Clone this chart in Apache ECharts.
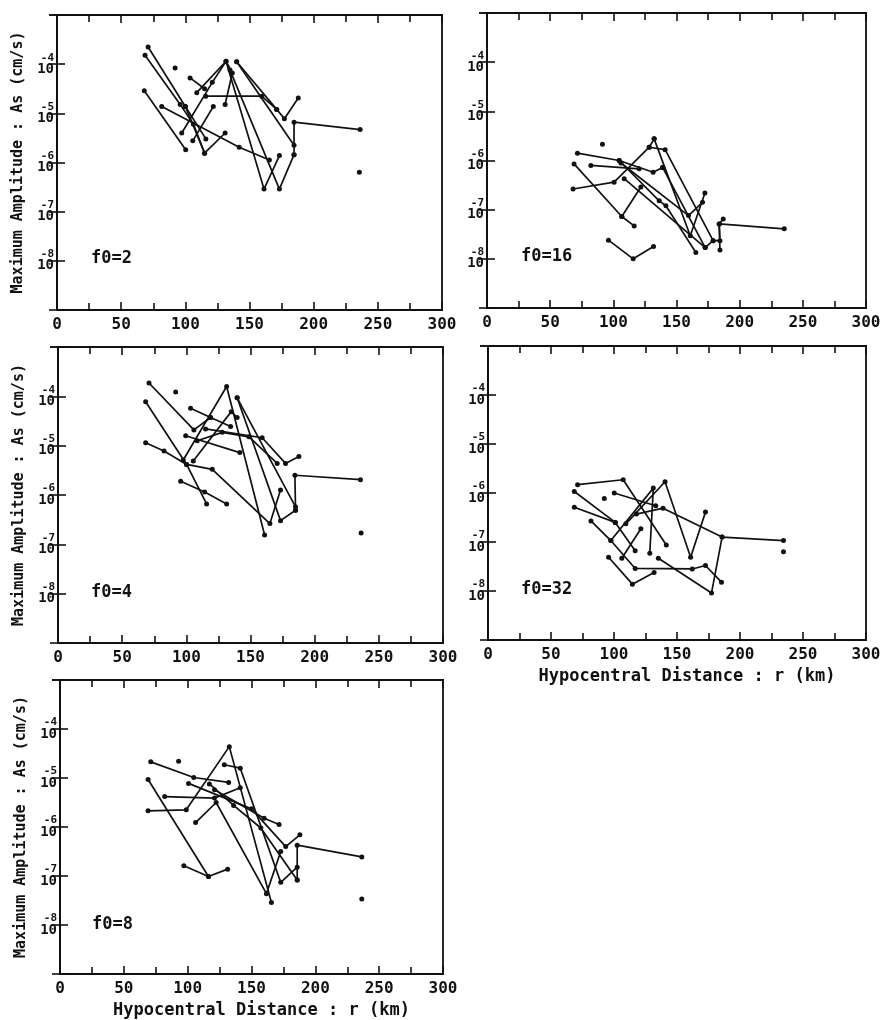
<!DOCTYPE html>
<html>
<head>
<meta charset="utf-8">
<script src="https://cdn.jsdelivr.net/npm/echarts@6/dist/echarts.min.js"></script>
<style>
  html, body { margin: 0; padding: 0; background: #fff; }
  #chart { width: 889px; height: 1020px; }
</style>
</head>
<body>
<div id="chart"></div>
<script>
// ---- Data: each polyline is a list of [hypocentral distance r (km), log10 of max amplitude As (cm/s)] ----
const panelNames = ['f0=2', 'f0=16', 'f0=4', 'f0=32', 'f0=8'];
const xTickLabels = ['0', '50', '100', '150', '200', '250', '300'];
const yAxisTitle = 'Maximum Amplitude : As (cm/s)';
const xAxisTitle = 'Hypocentral Distance : r (km)';

const f2Lines = [
  [[71, -3.65], [100, -4.86], [115, -5.81], [131, -5.40]],
  [[68.6, -3.82], [96, -4.82], [106.3, -5.22], [115, -5.81]],
  [[68, -4.54], [100.3, -5.74]],
  [[81.6, -4.86], [142, -5.69], [165.5, -5.95]],
  [[97.2, -5.40], [121, -4.37], [131.7, -3.94], [161.3, -6.54], [173.3, -5.86]],
  [[103.7, -4.28], [115, -4.50]],
  [[108.9, -4.58], [131.7, -3.94], [136.6, -4.18], [131, -4.82]],
  [[115.9, -4.65], [159.5, -4.65], [171.2, -4.92], [177.2, -5.11], [188, -4.69]],
  [[105.8, -5.56], [121.8, -4.86]],
  [[100, -4.86], [116, -5.52]],
  [[134.8, -4.12], [173.3, -6.54], [184.7, -5.84]],
  [[140, -3.95], [171.2, -4.92]],
  [[140, -3.95], [184.7, -5.65]],
  [[184.7, -5.84], [184.7, -5.18], [236.2, -5.33]],
  [[92, -4.08]],
  [[235.6, -6.20]]
];

const f16Lines = [
  [[71.6, -5.85], [104.6, -6.00], [131.5, -6.24], [139, -6.14]],
  [[82.2, -6.10], [120.4, -6.17]],
  [[68.9, -6.07], [106.7, -7.14], [116.5, -7.33]],
  [[68.1, -6.58], [100.6, -6.44], [128.4, -5.73], [132.3, -5.56]],
  [[106.7, -7.14], [121.8, -6.54]],
  [[104.6, -6.00], [136.3, -6.82], [141.6, -6.92], [165.3, -7.87]],
  [[108.6, -6.37], [172.7, -7.77], [179, -7.63]],
  [[132.3, -5.56], [160.9, -7.53], [172.5, -6.66]],
  [[128.4, -5.73], [141, -5.78], [179, -7.63], [184.4, -7.63], [183.8, -7.29], [235.3, -7.39]],
  [[106, -6.05], [159.5, -7.12], [170.6, -6.85]],
  [[139, -6.14], [172.7, -7.77]],
  [[184.4, -7.82], [183.8, -7.29], [187, -7.19]],
  [[96.1, -7.62], [115.7, -8.00], [131.8, -7.75]],
  [[91.4, -5.67]]
];

const f4Lines = [
  [[70.9, -3.73], [105.9, -4.68], [118.9, -4.43]],
  [[103.3, -4.24], [118.9, -4.43], [134.5, -4.61]],
  [[68.3, -4.11], [100.2, -5.38], [115.8, -6.18]],
  [[68.3, -4.94], [82.6, -5.11], [100.2, -5.38], [120.2, -5.48], [165.1, -6.58], [173.4, -5.90]],
  [[95.6, -5.72], [114.3, -5.94], [131.4, -6.18]],
  [[97.6, -5.29], [131.4, -3.80], [161, -6.81]],
  [[105.4, -5.31], [135, -4.31], [139.6, -4.43]],
  [[99.5, -4.80], [141.7, -5.14]],
  [[108.5, -4.90], [128, -4.73], [148.8, -4.82], [170.8, -5.36]],
  [[115, -4.66], [159.1, -4.84], [177.3, -5.36], [187.7, -5.22]],
  [[139.6, -4.03], [173.4, -6.52], [185.1, -6.31]],
  [[139.6, -4.03], [185.1, -6.24]],
  [[185.1, -6.31], [184.6, -5.60], [235.7, -5.69]],
  [[91.7, -3.91]],
  [[236.2, -6.77]]
];

const f32Lines = [
  [[71.1, -5.83], [107.3, -5.73], [141.5, -7.06]],
  [[68.5, -5.97], [101, -6.60], [116.8, -7.18]],
  [[68.5, -6.29], [101, -6.60]],
  [[100.2, -6.00], [133.1, -6.26]],
  [[81.7, -6.57], [97.5, -6.97], [116.8, -7.54], [162.1, -7.55], [172.6, -7.48], [185.3, -7.82]],
  [[97.5, -6.97], [131.2, -5.90], [128.4, -7.23]],
  [[106.2, -7.33], [121.3, -6.73]],
  [[109.4, -6.63], [140.5, -5.77], [160.8, -7.31], [172.6, -6.39]],
  [[117.8, -6.43], [138.9, -6.31], [185.8, -6.90], [234.5, -6.97]],
  [[135.2, -7.33], [177.4, -8.04], [185.8, -6.90]],
  [[95.7, -7.31], [114.6, -7.86], [131.8, -7.62]],
  [[92.3, -6.11]],
  [[234.5, -7.20]]
];

const f8Lines = [
  [[71.1, -4.67], [104.8, -4.99], [132.1, -5.09]],
  [[69, -5.03], [116.3, -7.01]],
  [[69, -5.67], [98.9, -5.65], [132.6, -4.36], [165.6, -7.54]],
  [[82, -5.38], [121, -5.41], [141.2, -5.20]],
  [[106.2, -5.91], [122.3, -5.50], [161.7, -7.36], [172.9, -6.50]],
  [[128.7, -4.73], [141.2, -4.80], [172.9, -7.13], [185.8, -6.82]],
  [[100.7, -5.11], [150, -5.63], [176.8, -6.40], [187.9, -6.16]],
  [[117, -5.12], [136, -5.56], [157.3, -6.02], [185.8, -7.08]],
  [[121, -5.24], [159.9, -5.82], [171.6, -5.95]],
  [[185.8, -7.08], [185.8, -6.37], [236.4, -6.61]],
  [[97, -6.79], [116.3, -7.01], [131.3, -6.86]],
  [[92.9, -4.66]],
  [[236.4, -7.47]]
];

const panelLines = [f2Lines, f16Lines, f4Lines, f32Lines, f8Lines];

// ---- Layout / style ----
const FONT = 'DejaVu Sans Mono';
const grids = [
  { left: 57,  top: 15,  width: 385, height: 295 },
  { left: 487, top: 13,  width: 379, height: 295 },
  { left: 58,  top: 347, width: 385, height: 296 },
  { left: 488, top: 346, width: 378, height: 294 },
  { left: 60,  top: 680, width: 383, height: 294 }
];
const showYTitle = [true, false, true, false, true];
const showXTitle = [false, false, false, true, true];
const labelPos = [
  { left: 91,  top: 250 },
  { left: 521, top: 248 },
  { left: 91,  top: 584 },
  { left: 521, top: 581 },
  { left: 92,  top: 916 }
];

const lineColor = '#111';
const xAxes = [], yAxes = [], series = [], titles = [];

grids.forEach((g, p) => {
  g.show = true;
  g.borderColor = lineColor;
  g.borderWidth = 1.8;
  g.backgroundColor = '#fff';
  g.containLabel = false;

  const xBase = {
    gridIndex: p, type: 'value', min: 0, max: 300, interval: 50,
    axisLine: { show: true, lineStyle: { color: lineColor, width: 1.8 } },
    axisTick: { show: true, inside: true, length: 8, lineStyle: { color: lineColor, width: 1.6 } },
    minorTick: { show: true, splitNumber: 2, length: 7, lineStyle: { color: lineColor, width: 1.6 } },
    splitLine: { show: false }
  };
  xAxes.push(Object.assign({}, xBase, {
    position: 'bottom',
    axisLabel: {
      show: true, margin: 7, fontFamily: FONT, fontSize: 16, fontWeight: 'bold', color: '#111',
      formatter: v => xTickLabels[Math.round(v / 50)] || ''
    },
    name: showXTitle[p] ? xAxisTitle : '',
    nameLocation: 'middle', nameGap: 28,
    nameTextStyle: { fontFamily: FONT, fontSize: 17, fontWeight: 'bold', color: '#111', padding: [0, 0, 0, 20] }
  }));
  xAxes.push(Object.assign({}, xBase, { position: 'top', axisLabel: { show: false } }));

  const yBase = {
    gridIndex: p, type: 'log', logBase: 10, min: 1e-9, max: 1e-3, splitNumber: 6,
    axisLine: { show: true, lineStyle: { color: lineColor, width: 1.8 } },
    axisTick: { show: true, inside: true, length: 8, lineStyle: { color: lineColor, width: 1.6 } },
    splitLine: { show: false }
  };
  yAxes.push(Object.assign({}, yBase, {
    position: 'left',
    axisLabel: {
      show: true, margin: 3, fontFamily: FONT, color: '#111',
      formatter: v => {
        const e = Math.round(Math.log10(v));
        if (e <= -9 || e >= -3) return '';
        return '{e|' + e + '}\n{b|10}';
      },
      rich: {
        e: { fontFamily: FONT, fontSize: 11, fontWeight: 'bold', lineHeight: 10, color: '#111', align: 'right' },
        b: { fontFamily: FONT, fontSize: 14, fontWeight: 'bold', lineHeight: 13, color: '#111', align: 'right' }
      }
    },
    name: showYTitle[p] ? yAxisTitle : '',
    nameLocation: 'middle', nameGap: 31, nameRotate: 90,
    nameTextStyle: { fontFamily: FONT, fontSize: 15, fontWeight: 'bold', color: '#111' }
  }));
  yAxes.push(Object.assign({}, yBase, { position: 'right', axisLabel: { show: false } }));

  titles.push({
    text: panelNames[p], left: labelPos[p].left, top: labelPos[p].top, padding: 0,
    textStyle: { fontFamily: FONT, fontSize: 17, fontWeight: 'bold', color: '#111' }
  });

  panelLines[p].forEach(pts => {
    series.push({
      type: 'line',
      xAxisIndex: 2 * p, yAxisIndex: 2 * p,
      data: pts.map(([r, lg]) => [r, Math.pow(10, lg)]),
      symbol: 'circle', symbolSize: 5, showSymbol: true,
      lineStyle: { color: lineColor, width: 1.7 },
      itemStyle: { color: lineColor },
      silent: true, animation: false
    });
  });
});

const chart = echarts.init(document.getElementById('chart'), null, { renderer: 'canvas' });
chart.setOption({
  backgroundColor: '#fff',
  animation: false,
  title: titles,
  grid: grids,
  xAxis: xAxes,
  yAxis: yAxes,
  series: series
});
</script>
</body>
</html>
